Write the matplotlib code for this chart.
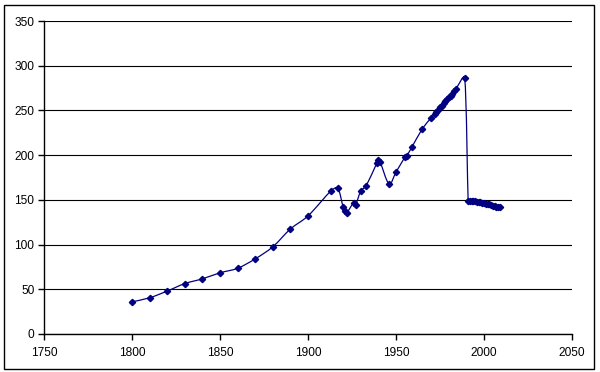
import numpy as np
import matplotlib
matplotlib.use("Agg")
import matplotlib.pyplot as plt
from matplotlib.path import Path
from matplotlib.patches import PathPatch, Rectangle

years = [1800, 1810, 1820, 1830, 1840, 1850, 1860, 1870, 1880, 1890, 1900,
         1913, 1917, 1920, 1921, 1922, 1926, 1927, 1930, 1933,
         1939, 1940, 1941, 1946, 1950, 1955, 1956, 1959, 1965, 1970,
         1972, 1973, 1974, 1975, 1976, 1977, 1978, 1979, 1980, 1981,
         1982, 1983, 1984, 1989,
         1991, 1992, 1993, 1994, 1995, 1996, 1997, 1998, 1999, 2000,
         2001, 2002, 2003, 2004, 2005, 2006, 2007, 2008, 2009]
population = [36, 40.5, 48, 56.4, 61.7, 68.4, 73.5, 84, 97.5, 117.4, 132,
              160, 163, 141.5, 138, 135.5, 147, 144, 160, 165.5,
              190.7, 194.1, 192.5, 168, 181, 197.5, 199, 208.8, 229.6, 241.7,
              246.3, 248.6, 250.9, 253.3, 255.5, 257.8, 260.1, 262.4, 264.5, 266.6,
              268.8, 271.2, 273.8, 286.7,
              148.3, 148.5, 148.6, 148.4, 148.3, 148.0, 147.8, 147.5, 147.0, 146.3,
              145.6, 145.2, 144.9, 144.2, 143.5, 142.8, 142.2, 142.0, 141.9]

x_ticks = [1750, 1800, 1850, 1900, 1950, 2000, 2050]
y_ticks = [0, 50, 100, 150, 200, 250, 300, 350]

plt.rcParams['font.family'] = ['Liberation Sans', 'DejaVu Sans']

fig = plt.figure(figsize=(6.0, 3.72), dpi=100)
ax = fig.add_axes([44/600, 1 - 334/372, (572-44)/600, (334-21)/372])

# outer chart border
fig.patches.append(Rectangle((4/600, 3/372), (594-4)/600, (368-4)/372,
                             transform=fig.transFigure, fill=False,
                             edgecolor='black', linewidth=1.0))

ax.set_xlim(1750, 2050)
ax.set_ylim(0, 350)
ax.set_xticks(x_ticks)
ax.set_yticks(y_ticks)
ax.tick_params(axis='both', labelsize=8.6, colors='black', length=4, width=1,
               direction='out')
ax.tick_params(axis='x', pad=5)
ax.tick_params(axis='y', pad=3)
for s in ['top', 'right']:
    ax.spines[s].set_visible(False)
for s in ['left', 'bottom']:
    ax.spines[s].set_linewidth(1)
ax.yaxis.grid(True, color='black', linewidth=0.8)
ax.set_axisbelow(True)

# smoothed line (Catmull-Rom style Bezier in screen space, clamped)
pts = ax.transData.transform(np.column_stack([years, population]))
n = len(pts)
verts = [tuple(pts[0])]
codes = [Path.MOVETO]

def clamp(v, lim):
    L = np.hypot(*v)
    if L > lim and L > 0:
        return v * lim / L
    return v

for i in range(n - 1):
    p0 = pts[max(i-1, 0)]
    p1 = pts[i]
    p2 = pts[i+1]
    p3 = pts[min(i+2, n-1)]
    seg = np.hypot(*(p2 - p1))
    t1 = clamp((p2 - p0) / 6.0, seg / 3.0)
    t2 = clamp((p3 - p1) / 6.0, seg / 3.0)
    verts += [tuple(p1 + t1), tuple(p2 - t2), tuple(p2)]
    codes += [Path.CURVE4, Path.CURVE4, Path.CURVE4]
verts_data = ax.transData.inverted().transform(np.array(verts))
ax.add_patch(PathPatch(Path(verts_data, codes), facecolor='none',
                       edgecolor='#000080', linewidth=0.9))

ax.plot(years, population, linestyle='none', marker='D', markersize=3.2,
        color='#000080', markeredgecolor='#000080')

fig.savefig('out.png', dpi=100)
